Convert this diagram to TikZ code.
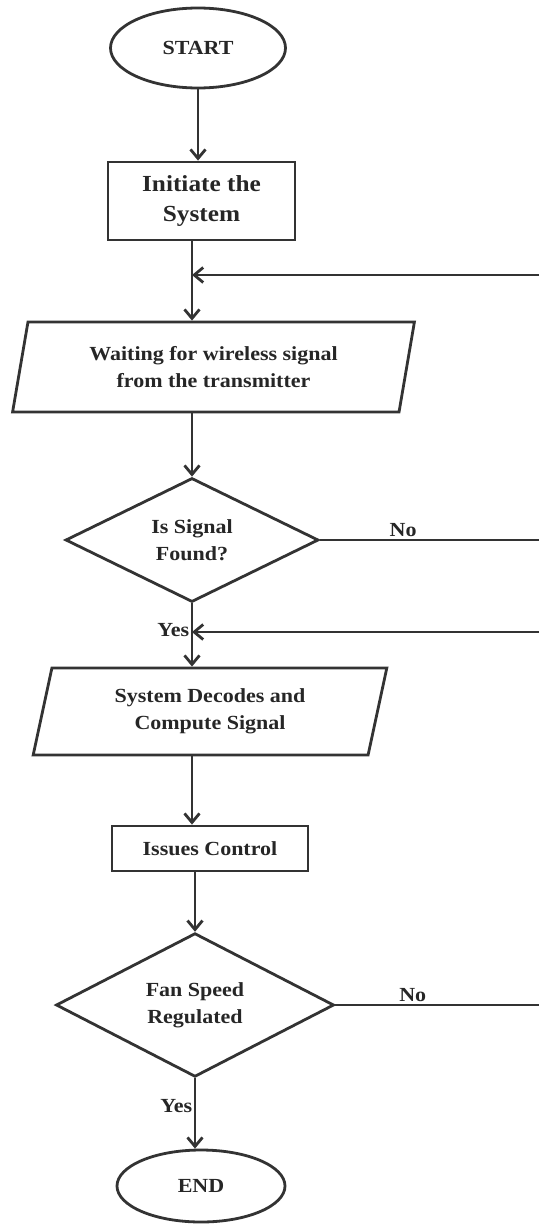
\documentclass[tikz,border=0pt]{standalone}
\usepackage{fontspec}
\setmainfont{Liberation Serif}[FakeStretch=1.1]
\usetikzlibrary{arrows.meta,shapes.geometric,positioning}

\begin{document}
\begin{tikzpicture}[x=1pt,y=-1pt,->,>={Straight Barb[length=9pt,width=15pt]},line width=2.8pt,draw=black!80,
  every node/.style={font=\bfseries\fontsize{20}{27}\selectfont,text=black!85,align=center},
  term/.style={ellipse,draw=black!80,inner sep=0pt},
  proc/.style={rectangle,draw=black!80,inner sep=0pt},
  io/.style={trapezium,trapezium left angle=76,trapezium right angle=104,trapezium stretches=true,draw=black!80,inner sep=0pt},
  dec/.style={diamond,draw=black!80,inner sep=0pt},
  lbl/.style={inner sep=1.5pt}]
  \useasboundingbox (0,0) rectangle (539,1228);
  \node[term,minimum width=175pt,minimum height=80pt] (start) at (198,48) {START};
  \node[proc,minimum width=187pt,minimum height=78pt,font=\bfseries\fontsize{23}{30}\selectfont] (init) at (201.5,201) {Initiate the\\System};
  \node[io,minimum width=403pt,minimum height=90pt] (p1) at (213.5,367) {Waiting for wireless signal\\from the transmitter};
  \node[dec,minimum width=253pt,minimum height=124pt] (d1) at (192,540) {Is Signal\\Found?};
  \node[io,minimum width=354pt,minimum height=87pt] (p2) at (210,711.5) {System Decodes and\\Compute Signal};
  \node[proc,minimum width=196pt,minimum height=45pt] (iss) at (210,848.5) {Issues Control};
  \node[dec,minimum width=278pt,minimum height=136pt] (d2) at (195,1005) {Fan Speed\\Regulated};
  \node[term,minimum width=168pt,minimum height=72pt] (end) at (201,1186) {END};
  \coordinate (r1) at (539,275);
  \coordinate (n1) at (539,540);
  \coordinate (r2) at (539,632);
  \coordinate (n2) at (539,1005);
  \path (start.south) edge (start.south |- init.north);
  \path (init.south -| d1.north) edge (p1.north -| d1.north);
  \path (r1) edge (r1 -| d1.north);
  \path (p1.south -| d1.north) edge (d1.north);
  \path (d1.east) edge[-] node[lbl,above,pos=.38] {No} (n1);
  \path (d1.south) edge node[lbl,left,pos=.42] {Yes} (p2.north -| d1.south);
  \path (r2) edge (r2 -| d1.south);
  \path (p2.south -| d1.south) edge (iss.north -| d1.south);
  \path (iss.south -| d2.north) edge (d2.north);
  \path (d2.east) edge[-] node[lbl,above,pos=.38] {No} (n2);
  \path (d2.south) edge node[lbl,left,pos=.4] {Yes} (end.north -| d2.south);
\end{tikzpicture}
\end{document}
